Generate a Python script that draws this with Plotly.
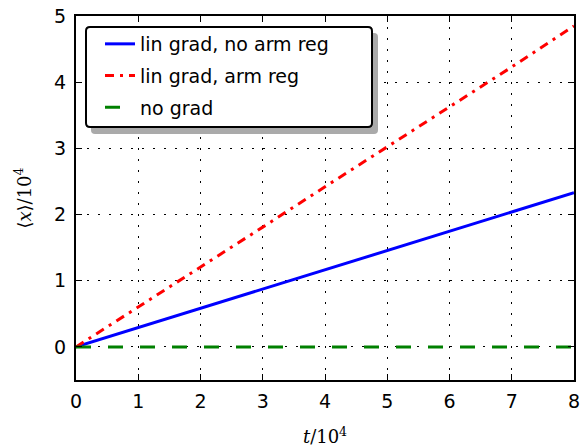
import plotly.graph_objects as go

t = [0, 1, 2, 3, 4, 5, 6, 7, 8]
lin_no_arm = [0, 0.29, 0.58, 0.87, 1.16, 1.45, 1.74, 2.03, 2.33]
lin_arm = [0, 0.60, 1.21, 1.81, 2.42, 3.02, 3.63, 4.23, 4.85]
no_grad = [0, 0, 0, 0, 0, 0, 0, 0, 0]
names = ["lin grad, no arm reg", "lin grad, arm reg", "no grad"]
xticks = [0, 1, 2, 3, 4, 5, 6, 7, 8]
yticks = [0, 1, 2, 3, 4, 5]

W, H = 581, 448
L, R, T, B = 76, 574, 16, 380

def px(x):
    return (x - L) / (R - L)

def py(y):
    return (B - y) / (B - T)

fig = go.Figure()
fig.add_trace(go.Scatter(x=t, y=lin_no_arm, mode="lines", name=names[0],
                         line=dict(color="blue", width=3), legendgroup="a"))
fig.add_trace(go.Scatter(x=t, y=lin_arm, mode="lines", name=names[1],
                         line=dict(color="red", width=3, dash="9px,6px,3px,6px"), legendgroup="b"))
fig.add_trace(go.Scatter(x=t, y=no_grad, mode="lines", name=names[2],
                         line=dict(color="green", width=3, dash="15px,17px"), legendgroup="c"))

# legend box (shadow + frame)
def rounded(x0, y0, x1, y1, r=4):
    X0, X1 = px(x0), px(x1)
    Y0, Y1 = py(y0), py(y1)
    rx = r / (R - L)
    ry = r / (B - T)
    return (f"M{X0+rx},{Y0} L{X1-rx},{Y0} Q{X1},{Y0} {X1},{Y0-ry} "
            f"L{X1},{Y1+ry} Q{X1},{Y1} {X1-rx},{Y1} L{X0+rx},{Y1} "
            f"Q{X0},{Y1} {X0},{Y1+ry} L{X0},{Y0-ry} Q{X0},{Y0} {X0+rx},{Y0} Z")

shapes = [
    dict(type="path", xref="paper", yref="paper", path=rounded(91, 33, 378, 134),
         fillcolor="#aaaaaa", line=dict(width=0), layer="above"),
    dict(type="path", xref="paper", yref="paper", path=rounded(86, 27, 372, 127),
         fillcolor="white", line=dict(color="black", width=2), layer="above"),
]

axis_common = dict(
    showline=True, linecolor="black", linewidth=2, mirror="ticks",
    ticks="inside", ticklen=6, tickwidth=1, tickcolor="black",
    showgrid=True, gridcolor="black", gridwidth=1, griddash="2px,9px",
    zeroline=False, automargin=False, ticklabeloverflow="allow",
    tickfont=dict(family="DejaVu Sans", size=19, color="black"),
)

fig.update_layout(
    width=W, height=H,
    margin=dict(l=L, r=W - R, t=T, b=H - B),
    plot_bgcolor="white", paper_bgcolor="white",
    xaxis=dict(range=[0, 8], tickvals=xticks, ticktext=[str(v) for v in xticks],
               title=dict(text="<i>t</i>/10<sup>4</sup>",
                          font=dict(family="DejaVu Serif", size=18, color="black"),
                          standoff=20),
               ticklabelstandoff=3,
               **axis_common),
    yaxis=dict(range=[-0.5, 5], tickvals=yticks, ticktext=[str(v) for v in yticks],
               title=dict(text="⟨<i>x</i>⟩/10<sup>4</sup>",
                          font=dict(family="DejaVu Serif", size=18, color="black"),
                          standoff=18),
               ticklabelstandoff=4,
               **axis_common),
    legend=dict(x=px(100), y=py(25), xanchor="left", yanchor="top",
                bgcolor="rgba(0,0,0,0)", borderwidth=0,
                font=dict(family="DejaVu Sans", size=19, color="black"),
                tracegroupgap=4, itemwidth=30),
    shapes=shapes,
    showlegend=True,
)

fig.write_html("out.html", config={"displayModeBar": False},
               post_script="document.body.style.margin='0';")
